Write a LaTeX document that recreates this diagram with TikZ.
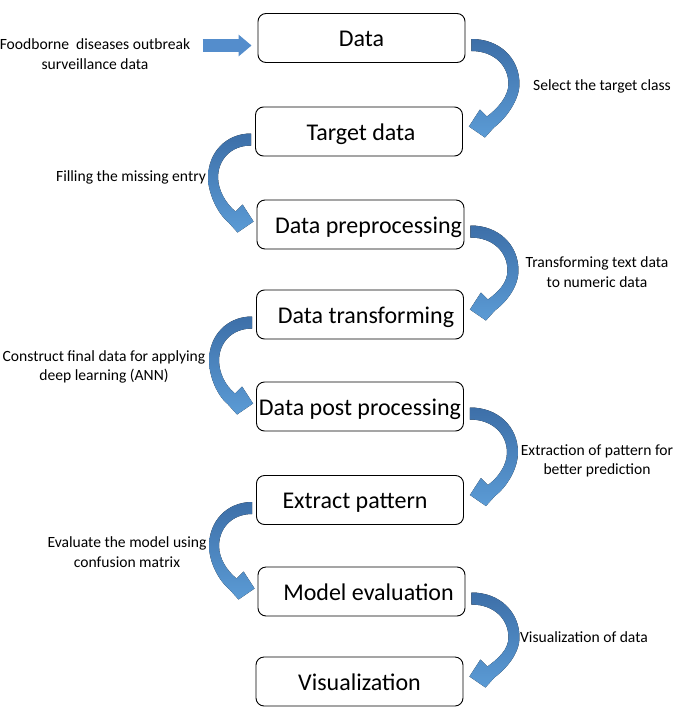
\documentclass[tikz,border=0pt]{standalone}
\usepackage{fontspec}
\setmainfont{Carlito}
\usetikzlibrary{calc,arrows.meta}
\definecolor{arrdark}{RGB}{61,111,168}
\definecolor{arrlight}{RGB}{91,155,213}
\definecolor{arrflat}{RGB}{84,141,204}
\newcommand{\RCurveArrow}[2]{%
  \fill[curvearr] ($(#1.east)+(6,1)$) .. controls +(28,0) and +(0,-26) .. ($(#1.east)+(54,46)$)
    .. controls +(0,16) and +(12,-9) .. ($(#2.east)+(31,-4)$)
    -- ($(#2.east)+(22,6)$) -- ($(#2.east)+(6,-5)$) -- ($(#2.east)+(17,-22)$)
    -- ($(#2.east)+(24,-15)$)
    .. controls +(11,-8) and +(0,12) .. ($(#1.east)+(43,46)$)
    .. controls +(0,-19) and +(22,0) .. ($(#1.east)+(6,13)$) -- cycle;}
\newcommand{\LCurveArrow}[2]{%
  \fill[curvearr] ($(#1.west)+(-4,2)$) .. controls +(-25,0) and +(0,-25) .. ($(#1.west)+(-47,46)$)
    .. controls +(0,16) and +(-11,-9) .. ($(#2.west)+(-28,-2)$)
    -- ($(#2.west)+(-19,8)$) -- ($(#2.west)+(-3,-3)$) -- ($(#2.west)+(-14,-20)$)
    -- ($(#2.west)+(-21,-13)$)
    .. controls +(-10,-8) and +(0,12) .. ($(#1.west)+(-37,46)$)
    .. controls +(0,-18) and +(-20,0) .. ($(#1.west)+(-4,14)$) -- cycle;}
\begin{document}
\begin{tikzpicture}[x=1pt,y=-1pt,
  stagebox/.style={draw=black,line width=0.9pt,rounded corners=8pt,minimum width=207pt,
    minimum height=49pt,inner sep=0pt,text height=22pt,text depth=5pt,
    font=\fontsize{24}{28}\selectfont},
  lbl/.style={align=center,inner sep=0pt,font=\fontsize{15.6}{19.5}\selectfont},
  curvearr/.style={top color=arrdark,bottom color=arrlight},
  flatarr/.style={draw=arrflat,line width=13pt,-{Triangle[length=13pt,width=21pt]}}]
\useasboundingbox (0,0) rectangle (677,720);
\node[stagebox] (d1) at (361.5,38) {Data};
\node[stagebox] (d2) at (359,131.5) {\hspace*{4pt}Target data};
\node[stagebox] (d3) at (360.5,224.5) {\hspace*{16pt}Data preprocessing};
\node[stagebox] (d4) at (360,314.5) {\hspace*{12pt}Data transforming};
\node[stagebox] (d5) at (360,406.5) {Data post processing};
\node[stagebox] (d6) at (360,500) {Extract pattern\hspace*{10pt}};
\node[stagebox] (d7) at (361.5,591.5) {\hspace*{14pt}Model evaluation};
\node[stagebox] (d8) at (359.5,681.5) {Visualization};
\node[lbl] (src) at (95,54) {Foodborne~ diseases outbreak\\surveillance data};
\node[lbl] (t1) at (602,86) {Select the target class};
\node[lbl] (t2) at (131,177) {Filling the missing entry};
\node[lbl] (t3) at (597,272) {Transforming text data\\to numeric data};
\node[lbl] (t4) at (104,367) {Construct final data for applying\\deep learning (ANN)};
\node[lbl] (t5) at (597,461) {Extraction of pattern for\\better prediction};
\node[lbl] (t6) at (127,552) {Evaluate the model using\\confusion matrix};
\node[lbl] (t7) at (584,637) {Visualization of data};
\draw[flatarr] ($(d1.west)+(-55,7.5)$) -- ($(d1.west)+(-6,7.5)$);
\RCurveArrow{d1}{d2}
\LCurveArrow{d2}{d3}
\RCurveArrow{d3}{d4}
\LCurveArrow{d4}{d5}
\RCurveArrow{d5}{d6}
\LCurveArrow{d6}{d7}
\RCurveArrow{d7}{d8}
\end{tikzpicture}
\end{document}
